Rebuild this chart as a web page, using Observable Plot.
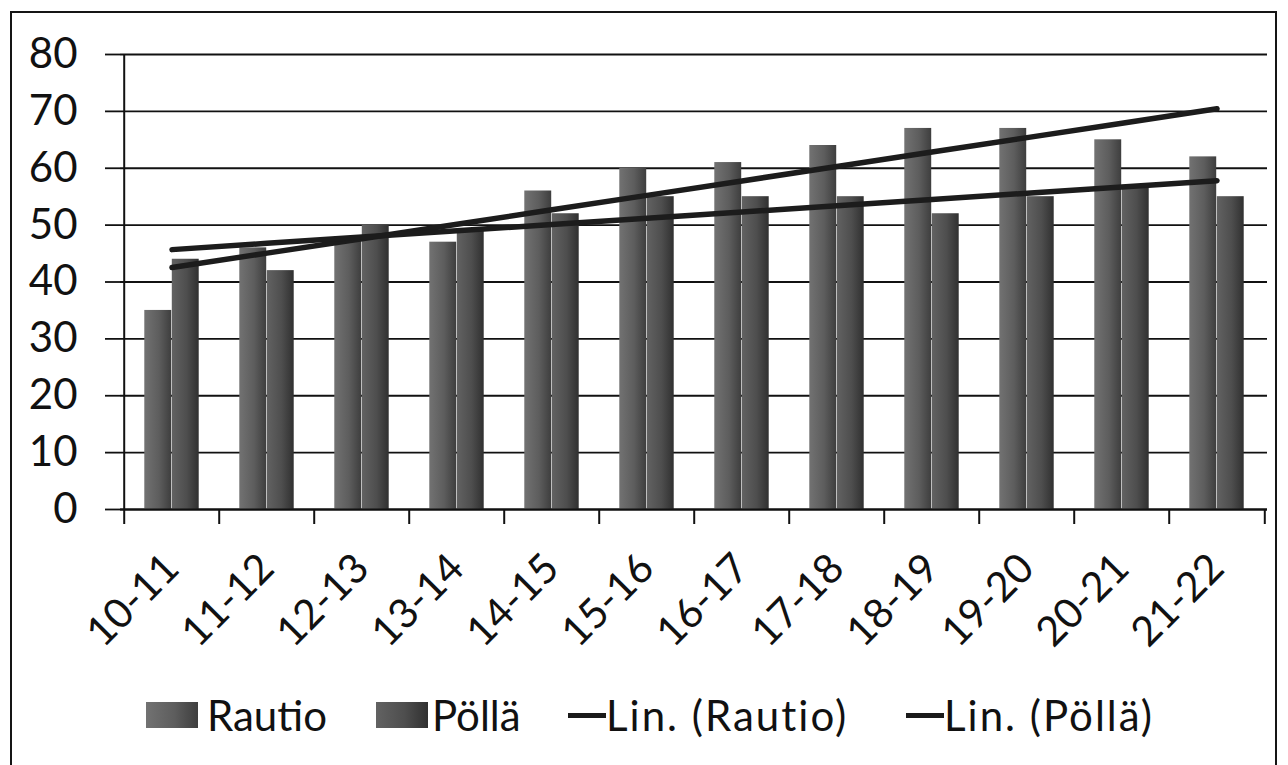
<!DOCTYPE html>
<html><head><meta charset="utf-8">
<script src="https://cdn.jsdelivr.net/npm/d3@7"></script>
<script src="https://cdn.jsdelivr.net/npm/@observablehq/plot@0.6"></script>
<style>
body{margin:0;background:#fff;font-family:Lato,sans-serif;}
#wrap{position:relative;width:1288px;height:765px;overflow:hidden;background:#fff;}
#border{position:absolute;left:10px;top:11px;width:1267px;height:820px;border:2.5px solid #151515;box-sizing:border-box;}
#chart{position:absolute;left:0;top:0;}
#legend{position:absolute;left:0;top:690px;width:1288px;height:50px;font-size:42px;color:#111;}
.sw{position:absolute;top:12px;width:52px;height:26px;}
.ln{position:absolute;top:23px;width:38px;height:5px;background:#1a1a1a;}
.tx{position:absolute;top:0;line-height:50px;white-space:nowrap;}
.tx.lin{letter-spacing:2px;}
</style></head>
<body><div id="wrap"><div id="border"></div><div id="chart"></div><div id="legend"></div></div>
<script>
const categories = ["10-11","11-12","12-13","13-14","14-15","15-16","16-17","17-18","18-19","19-20","20-21","21-22"];
const rautio = [35,46,48,47,56,60,61,64,67,67,65,62];
const polla  = [44,42,50,49,52,55,55,55,52,55,57,55];
const yTicks = [0,10,20,30,40,50,60,70,80];
const seriesNames = ["Rautio","Pöllä"];

const W=1288,H=690, ml=120, mr=21, mt=54, mb=181;
const bw=(W-ml-mr)/categories.length;
const barW = 27.5;
const outer = (bw - 2*barW)/2;

const data = categories.map((c,i)=>({cat:c, rautio:rautio[i], polla:polla[i]}));
function trend(vals){
  const xs=d3.range(vals.length);
  const mx=d3.mean(xs), my=d3.mean(vals);
  const b=d3.sum(xs,(x,i)=>(x-mx)*(vals[i]-my))/d3.sum(xs,x=>(x-mx)**2);
  const a=my-b*mx;
  return xs.map(x=>a+b*x);
}
const tr=trend(rautio), tp=trend(polla);
const trendData = categories.map((c,i)=>({cat:c, r:tr[i], p:tp[i]}));

const chart = Plot.plot({
  width:W,height:H,marginLeft:ml,marginRight:mr,marginTop:mt,marginBottom:mb,
  style:{fontFamily:"Lato, sans-serif", background:"transparent", color:"#111", overflow:"visible"},
  x:{domain:categories, padding:0, label:null},
  y:{domain:[yTicks[0], yTicks[yTicks.length-1]], label:null},
  marks:[
    Plot.gridY(yTicks,{stroke:"#111",strokeOpacity:1,strokeWidth:1.8}),
    Plot.barY(data,{x:"cat",y:"rautio",fill:"url(#gR)",insetLeft:outer,insetRight:outer+barW}),
    Plot.barY(data,{x:"cat",y:"polla",fill:"url(#gP)",insetLeft:outer+barW,insetRight:outer}),
    Plot.ruleY([yTicks[0]],{stroke:"#111",strokeWidth:2}),
    Plot.ruleX([categories[0]],{dx:-bw/2, y1:yTicks[0], y2:yTicks[yTicks.length-1], stroke:"#111", strokeWidth:2}),
    Plot.axisY({ticks:yTicks, tickSize:15, tickPadding:28, fontSize:42, stroke:"#111", strokeWidth:1.8}),
    Plot.axisX({tickSize:0, tickRotate:-45, fontSize:41, tickPadding:52}),
    Plot.axisX({tickSize:15, tickFormat:()=>"", dx:-bw/2, stroke:"#111", strokeWidth:2}),
    Plot.axisX({ticks:[categories[categories.length-1]], tickSize:15, tickFormat:()=>"", dx:bw/2, stroke:"#111", strokeWidth:2}),
    Plot.line(trendData,{x:"cat",y:"r",stroke:"#1c1c1c",strokeWidth:5.5}),
    Plot.line(trendData,{x:"cat",y:"p",stroke:"#1c1c1c",strokeWidth:5.5})
  ]
});
const defs = document.createElementNS("http://www.w3.org/2000/svg","defs");
defs.innerHTML = `
<linearGradient id="gR" x1="0" x2="1" y1="0" y2="0">
 <stop offset="0" stop-color="#727272"/><stop offset="0.55" stop-color="#5d5d5d"/><stop offset="1" stop-color="#3e3e3e"/>
</linearGradient>
<linearGradient id="gP" x1="0" x2="1" y1="0" y2="0">
 <stop offset="0" stop-color="#626262"/><stop offset="0.55" stop-color="#4e4e4e"/><stop offset="1" stop-color="#303030"/>
</linearGradient>`;
chart.insertBefore(defs, chart.firstChild);
document.getElementById("chart").appendChild(chart);

const legend = document.getElementById("legend");
const items = [
  {label:seriesNames[0], type:"sw", bg:"linear-gradient(90deg,#727272,#5d5d5d 55%,#3e3e3e)", sym:146, txt:207},
  {label:seriesNames[1], type:"sw", bg:"linear-gradient(90deg,#626262,#4e4e4e 55%,#303030)", sym:376, txt:432},
  {label:`Lin. (${seriesNames[0]})`, type:"ln", sym:568, txt:606},
  {label:`Lin. (${seriesNames[1]})`, type:"ln", sym:906, txt:944}
];
for (const it of items){
  const s=document.createElement("div"); s.className=it.type; s.style.left=it.sym+"px"; if(it.bg) s.style.background=it.bg;
  const t=document.createElement("div"); t.className="tx"+(it.type==="ln"?" lin":""); t.style.left=it.txt+"px"; t.textContent=it.label;
  legend.appendChild(s); legend.appendChild(t);
}
</script></body></html>
